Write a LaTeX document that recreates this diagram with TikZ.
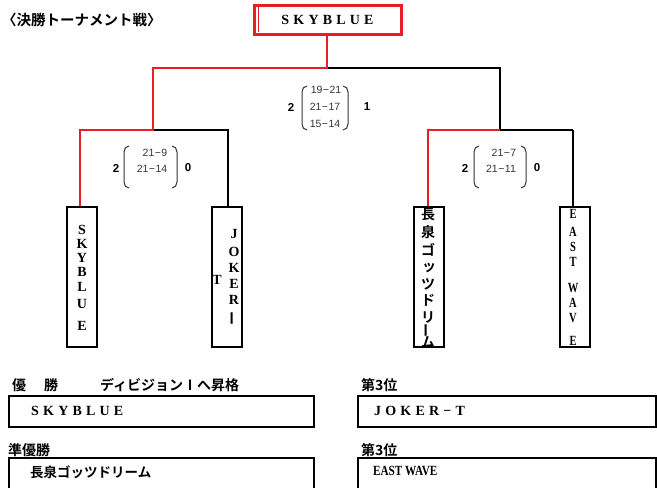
\documentclass[tikz,border=0pt]{standalone}
\usepackage{fontspec}
\setmainfont{Liberation Serif}
\newfontfamily\cjk{Noto Sans CJK JP}[BoldFont={* Bold}]
\newfontfamily\spc{Liberation Serif}[LetterSpace=30]
\newfontfamily\scsans{Liberation Sans}
\definecolor{rd}{RGB}{232,30,38}
\newcommand{\dsh}{\kern0.5pt−\kern0.5pt}
\begin{document}
\begin{tikzpicture}[x=1pt,y=-1pt,
  redln/.style={draw=rd, line width=2.5pt},
  blkln/.style={draw=black, line width=1.8pt},
  teambox/.style={draw, line width=1.6pt, minimum width=30pt, minimum height=140pt, inner sep=0pt},
  resbox/.style={draw, line width=1.8pt, minimum height=31pt, inner sep=0pt, anchor=north west},
  vlet/.style={font=\bfseries\fontsize{14}{14}\selectfont, inner sep=0pt},
  vjp/.style={font=\cjk\bfseries\fontsize{14}{14}\selectfont, inner sep=0pt},
  jph/.style={font=\cjk\bfseries\fontsize{14}{14}\selectfont, inner sep=0pt, anchor=west},
  spaced/.style={font=\spc\bfseries\fontsize{14}{14}\selectfont, inner sep=0pt, anchor=west},
  score/.style={font=\scsans\fontsize{10.5}{10.5}\selectfont, text=black!80, inner sep=0pt},
  tally/.style={font=\scsans\bfseries\fontsize{11.5}{11.5}\selectfont, inner sep=0pt},
  paren/.style={draw=black!80, line width=1pt}]
\useasboundingbox (0,0) rectangle (657,488);

% title
\node[font=\cjk\bfseries\fontsize{14.5}{14.5}\selectfont, inner sep=0pt, anchor=west] (title) at (2,20) {〈決勝トーナメント戦〉};

% champion box
\node[draw=rd, line width=3pt, minimum width=147pt, minimum height=29pt, inner sep=0pt, font=\spc\bfseries\fontsize{14}{14}\selectfont] (champ) at (327.5,19.5) {SKYBLUE};
\coordinate (ci1) at (258.5,7);
\coordinate (ci2) at (258.5,32);
\draw[draw=rd, line width=1pt] (ci1) -- (ci2);

% team boxes
\node[teambox] (t1) at (82,277) {};
\node[teambox] (t2) at (227,277) {};
\node[teambox] (t3) at (429,277) {};
\node[teambox] (t4) at (575,277) {};

% junctions
\coordinate (jt) at (327,68);
\coordinate (jl) at (153,68);
\coordinate (jr) at (500,68);
\coordinate (jl2) at (153,130);
\coordinate (jr2) at (500,130);
\coordinate (ja) at (80,130);
\coordinate (jb) at (228,130);
\coordinate (jc) at (428,130);
\coordinate (jd) at (573,130);

% black lines
\draw[blkln] (jt) -- (jr) -- (jr2);
\draw[blkln] (jd) -- (jr2);
\draw[blkln] (jd) -- (jd |- t4.north);
\draw[blkln] (jl2) -- (jb) -- (jb |- t2.north);
% red lines
\draw[redln] (champ.south -| jt) -- (jt) -- (jl) -- (jl2) -- (ja) -- (ja |- t1.north);
\draw[redln] (jr2) -- (jc) -- (jc |- t3.north);

% scores top
\node[tally] (s0a) at (291,107) {2};
\node[tally] (s0b) at (367,107) {1};
\node[score] (s01) at (326,90) {19\dsh21};
\node[score] (s02) at (325,107) {21\dsh17};
\node[score] (s03) at (325,124) {15\dsh14};
\draw[paren] (307,86) to[out=180,in=90] (302,92) -- (302,124) to[out=-90,in=180] (307,130);
\draw[paren] (343,86) to[out=0,in=90] (348,92) -- (348,124) to[out=-90,in=0] (343,130);

% scores left
\node[tally] (s1a) at (116,168) {2};
\node[tally] (s1b) at (188,168) {0};
\node[score] (s11) at (155,153) {21\dsh9};
\node[score] (s12) at (152,169) {21\dsh14};
\draw[paren] (129,146) to[out=180,in=90] (124,152) -- (124,182) to[out=-90,in=180] (129,188);
\draw[paren] (172,146) to[out=0,in=90] (177,152) -- (177,182) to[out=-90,in=0] (172,188);

% scores right
\node[tally] (s2a) at (465,168) {2};
\node[tally] (s2b) at (537,168) {0};
\node[score] (s21) at (504,153) {21\dsh7};
\node[score] (s22) at (501,169) {21\dsh11};
\draw[paren] (479,146) to[out=180,in=90] (474,152) -- (474,182) to[out=-90,in=180] (479,188);
\draw[paren] (521,146) to[out=0,in=90] (526,152) -- (526,182) to[out=-90,in=0] (521,188);

% vertical names
\node[vlet] (a1) at (82,230) {S};
\node[vlet] (a2) at (82,244) {K};
\node[vlet] (a3) at (82,258) {Y};
\node[vlet] (a4) at (82,272) {B};
\node[vlet] (a5) at (82,287) {L};
\node[vlet] (a6) at (82,304) {U};
\node[vlet] (a7) at (82,326) {E};

\node[vlet] (b1) at (234,234) {J};
\node[vlet] (b2) at (234,252) {O};
\node[vlet] (b3) at (234,268) {K};
\node[vlet] (b4) at (234,284) {E};
\node[vlet] (b5) at (234,300) {R};
\node[vjp, rotate=90] (b6) at (234,318) {ー};
\node[vlet] (b7) at (217,280) {T};

\node[vjp] (c1) at (428,214) {長};
\node[vjp] (c2) at (428,232) {泉};
\node[vjp] (c3) at (428,250) {ゴ};
\node[vjp] (c4) at (429,268) {ッ};
\node[vjp] (c5) at (428,284) {ツ};
\node[vjp] (c6) at (428,300) {ド};
\node[vjp] (c7) at (428,317) {リ};
\node[vjp, rotate=90] (c8) at (428,330) {ー};
\node[vjp] (c9) at (428,342) {ム};

\node[vlet, xscale=0.75] (d1) at (573,214) {E};
\node[vlet, xscale=0.75] (d2) at (573,232) {A};
\node[vlet, xscale=0.75] (d3) at (573,247) {S};
\node[vlet, xscale=0.75] (d4) at (573,262) {T};
\node[vlet, xscale=0.75] (d5) at (573,288) {W};
\node[vlet, xscale=0.75] (d6) at (573,303) {A};
\node[vlet, xscale=0.75] (d7) at (573,318) {V};
\node[vlet, xscale=0.75] (d8) at (573,341) {E};

% results
\node[jph] (h1a) at (12,385) {優};
\node[jph] (h1b) at (44,385) {勝};
\node[jph] (h1c) at (100,385) {ディビジョンⅠへ昇格};
\node[resbox, minimum width=305pt] (r1) at (8,395) {};
\node[spaced] (r1t) at (31,411) {SKYBLUE};

\node[jph] (h2) at (8,450) {準優勝};
\node[resbox, minimum width=305pt] (r2) at (8,457) {};
\node[jph, font=\cjk\bfseries\fontsize{13.5}{13.5}\selectfont] (r2t) at (30,472) {長泉ゴッツドリーム};

\node[jph] (h3) at (361,385) {第3位};
\node[resbox, minimum width=298pt] (r3) at (357,395) {};
\node[spaced] (r3t) at (374,411) {JOKER−T};

\node[jph] (h4) at (361,450) {第3位};
\node[resbox, minimum width=298pt] (r4) at (357,457) {};
\node[vlet, anchor=west, xscale=0.8, font=\bfseries\fontsize{14}{14}\selectfont] (r4t) at (373,471) {EAST WAVE};
\end{tikzpicture}
\end{document}
